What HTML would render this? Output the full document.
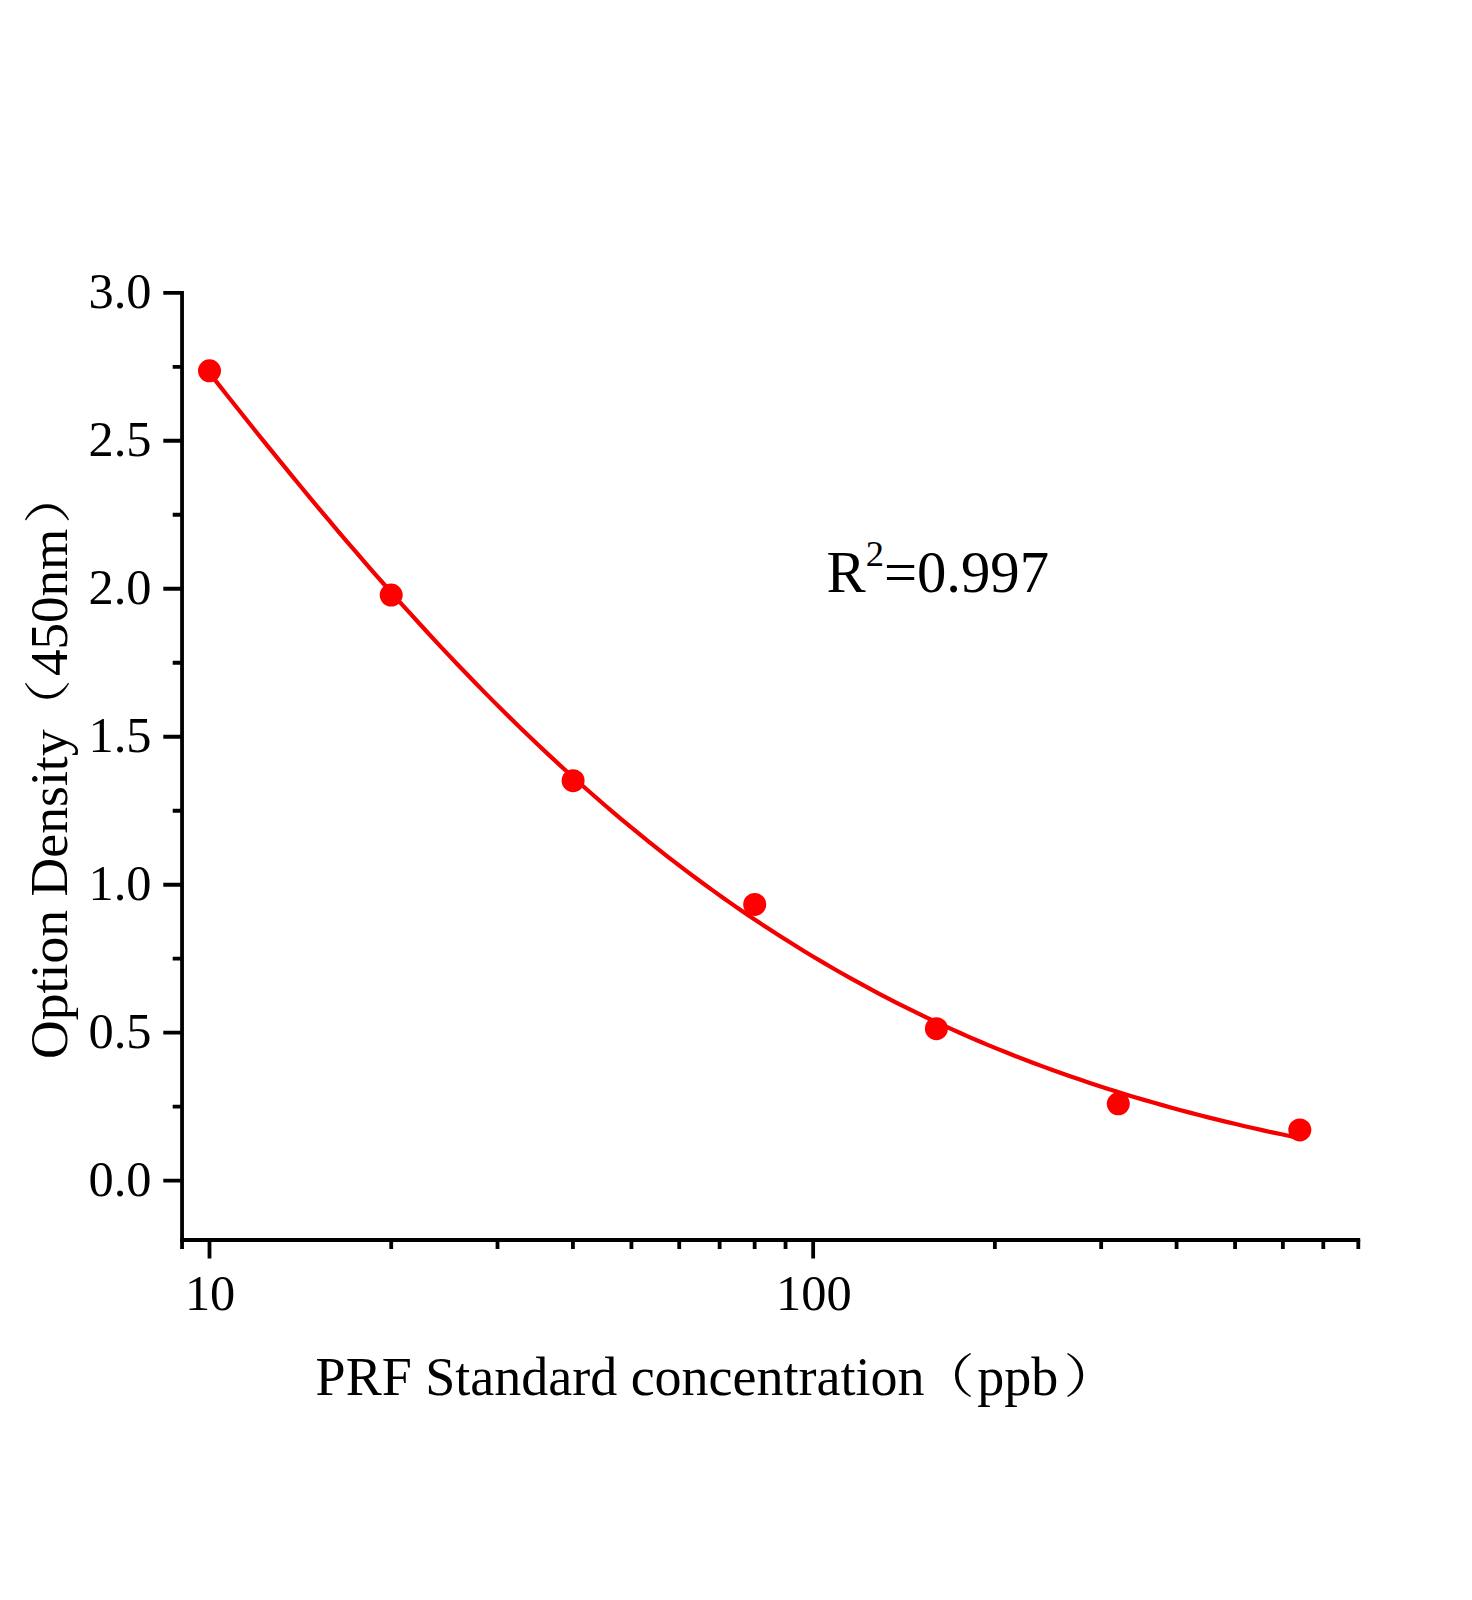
<!DOCTYPE html>
<html lang="en"><head><meta charset="utf-8"><title>PRF Standard Curve</title>
<style>html,body{margin:0;padding:0;background:#fff}body{width:1472px;height:1600px;overflow:hidden}svg{display:block}text{font-family:"Liberation Serif","Noto Serif CJK SC",serif;fill:#000}.tk{font-size:50.4px}.ti{font-size:54px}.an{font-size:58.7px}</style></head><body>
<svg width="1472" height="1600" viewBox="0 0 1472 1600">
<rect width="1472" height="1600" fill="#fff"/>
<g stroke="#000" stroke-width="3.8" fill="none" stroke-linecap="butt">
<path d="M182.05 290.90V1241.90"/>
<path d="M180.15 1240.0H1360.2"/>
<path d="M182.05 1180.70H163.3M182.05 1032.72H163.3M182.05 884.73H163.3M182.05 736.75H163.3M182.05 588.76H163.3M182.05 440.77H163.3M182.05 292.79H163.3M182.05 1106.71H172.7M182.05 958.72H172.7M182.05 810.74H172.7M182.05 662.75H172.7M182.05 514.77H172.7M182.05 366.78H172.7"/>
<path d="M209.50 1240.0V1258.4M813.15 1240.0V1258.4M391.22 1240.0V1248.9M497.51 1240.0V1248.9M572.93 1240.0V1248.9M631.43 1240.0V1248.9M679.23 1240.0V1248.9M719.64 1240.0V1248.9M754.65 1240.0V1248.9M785.53 1240.0V1248.9M994.87 1240.0V1248.9M1101.16 1240.0V1248.9M1176.58 1240.0V1248.9M1235.08 1240.0V1248.9M1282.88 1240.0V1248.9M1323.29 1240.0V1248.9M1358.30 1240.0V1248.9M182.05 1240.0V1248.9"/>
</g>
<text class="tk" x="151.5" y="1195.7" text-anchor="end">0.0</text>
<text class="tk" x="151.5" y="1047.7" text-anchor="end">0.5</text>
<text class="tk" x="151.5" y="899.7" text-anchor="end">1.0</text>
<text class="tk" x="151.5" y="751.7" text-anchor="end">1.5</text>
<text class="tk" x="151.5" y="603.8" text-anchor="end">2.0</text>
<text class="tk" x="151.5" y="455.8" text-anchor="end">2.5</text>
<text class="tk" x="151.5" y="307.8" text-anchor="end">3.0</text>
<text class="tk" x="210.1" y="1310" text-anchor="middle">10</text>
<text class="tk" x="813.8" y="1310" text-anchor="middle">100</text>
<text class="ti" x="315.6" y="1395.2">PRF Standard concentration</text>
<text font-size="47" transform="translate(918.2 1393.2) scale(1.2 1)">（</text>
<text class="ti" x="977.3" y="1395.2">ppb</text>
<text font-size="47" transform="translate(1063.4 1393.2) scale(1.2 1)">）</text>
<text class="ti" style="font-size:53.7px" transform="translate(67.2 1059) rotate(-90)">Option Density</text>
<text font-size="47" transform="translate(65.2 735.6) rotate(-90) scale(1.2 1)">（</text>
<text class="ti" style="font-size:53px" transform="translate(67.2 676) rotate(-90)">450nm</text>
<text font-size="47" transform="translate(65.2 523.9) rotate(-90) scale(1.2 1)">）</text>
<text class="an" x="826.5" y="592.3">R<tspan font-size="36.5" dy="-26">2</tspan><tspan dy="26">=0.997</tspan></text>
<path d="M209.50 373.04 L218.66 384.67 L227.82 396.26 L236.99 407.80 L246.15 419.29 L255.31 430.72 L264.47 442.11 L273.64 453.43 L282.80 464.69 L291.96 475.88 L301.12 487.01 L310.28 498.07 L319.45 509.06 L328.61 519.97 L337.77 530.80 L346.93 541.56 L356.10 552.23 L365.26 562.83 L374.42 573.33 L383.58 583.75 L392.74 594.08 L401.91 604.32 L411.07 614.46 L420.23 624.52 L429.39 634.47 L438.55 644.33 L447.72 654.09 L456.88 663.75 L466.04 673.31 L475.20 682.76 L484.37 692.12 L493.53 701.37 L502.69 710.51 L511.85 719.55 L521.01 728.48 L530.18 737.30 L539.34 746.02 L548.50 754.62 L557.66 763.12 L566.83 771.51 L575.99 779.79 L585.15 787.96 L594.31 796.02 L603.47 803.98 L612.64 811.82 L621.80 819.55 L630.96 827.17 L640.12 834.68 L649.29 842.09 L658.45 849.38 L667.61 856.57 L676.77 863.65 L685.93 870.62 L695.10 877.48 L704.26 884.24 L713.42 890.89 L722.58 897.43 L731.74 903.87 L740.91 910.20 L750.07 916.44 L759.23 922.57 L768.39 928.59 L777.56 934.52 L786.72 940.35 L795.88 946.07 L805.04 951.70 L814.20 957.23 L823.37 962.67 L832.53 968.01 L841.69 973.25 L850.85 978.40 L860.02 983.46 L869.18 988.43 L878.34 993.31 L887.50 998.10 L896.66 1002.80 L905.83 1007.41 L914.99 1011.94 L924.15 1016.38 L933.31 1020.74 L942.48 1025.01 L951.64 1029.20 L960.80 1033.29 L969.96 1037.30 L979.12 1041.22 L988.29 1045.08 L997.45 1048.85 L1006.61 1052.55 L1015.77 1056.18 L1024.93 1059.74 L1034.10 1063.22 L1043.26 1066.63 L1052.42 1069.98 L1061.58 1073.26 L1070.75 1076.47 L1079.91 1079.61 L1089.07 1082.69 L1098.23 1085.71 L1107.39 1088.66 L1116.56 1091.56 L1125.72 1094.39 L1134.88 1097.17 L1144.04 1099.88 L1153.21 1102.54 L1162.37 1105.14 L1171.53 1107.69 L1180.69 1110.18 L1189.85 1112.62 L1199.02 1115.01 L1208.18 1117.35 L1217.34 1119.63 L1226.50 1121.87 L1235.67 1124.06 L1244.83 1126.20 L1253.99 1128.30 L1263.15 1130.34 L1272.31 1132.35 L1281.48 1134.31 L1290.64 1136.23 L1299.80 1138.10" fill="none" stroke="#f40000" stroke-width="4.2" stroke-linejoin="round"/>
<circle cx="209.5" cy="370.8" r="11.5" fill="#ff0000"/>
<circle cx="391.2" cy="595.1" r="11.5" fill="#ff0000"/>
<circle cx="573.1" cy="780.7" r="11.5" fill="#ff0000"/>
<circle cx="754.7" cy="904.45" r="11.5" fill="#ff0000"/>
<circle cx="936.4" cy="1028.7" r="11.5" fill="#ff0000"/>
<circle cx="1118.3" cy="1103.8" r="11.5" fill="#ff0000"/>
<circle cx="1299.8" cy="1129.9" r="11.5" fill="#ff0000"/>
</svg></body></html>
